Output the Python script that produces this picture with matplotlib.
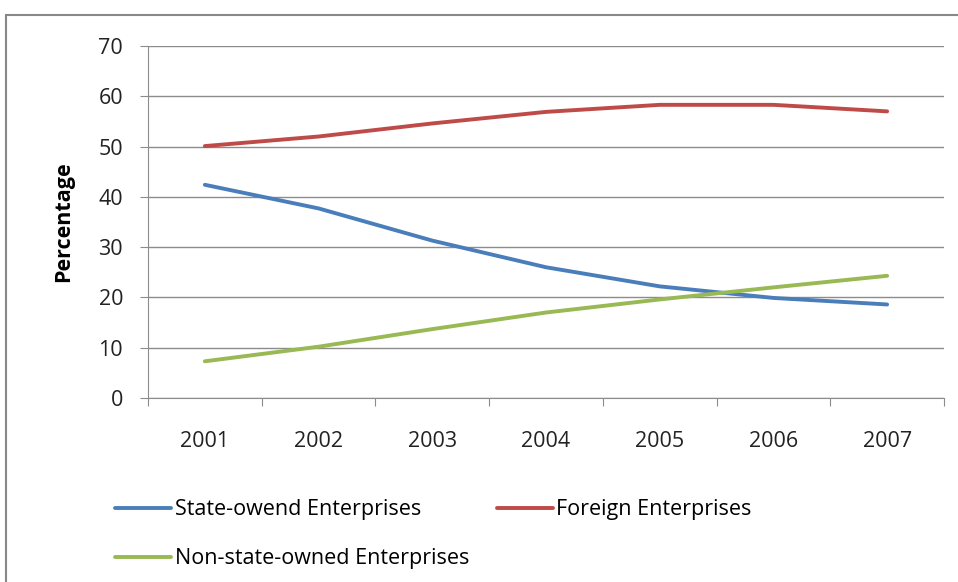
import matplotlib.pyplot as plt
from matplotlib.patches import Rectangle

plt.rcParams['font.family'] = ['Open Sans', 'DejaVu Sans']

years = ['2001', '2002', '2003', '2004', '2005', '2006', '2007']
state_owned = [42.4, 37.7, 31.3, 26.0, 22.2, 19.9, 18.6]
foreign = [50.1, 52.0, 54.6, 56.9, 58.3, 58.3, 57.0]
non_state = [7.3, 10.2, 13.7, 17.0, 19.6, 22.0, 24.3]
labels = ['State-owend Enterprises', 'Foreign Enterprises', 'Non-state-owned Enterprises']
colors = ['#4A7EBB', '#BE4B48', '#98B954']
fs = 15.5

fig = plt.figure(figsize=(9.58, 5.82), dpi=100)
# chart border like the Excel chart area
fig.patches.append(Rectangle((6 / 958, -0.1), 1.2, 1.1 - 15 / 582, transform=fig.transFigure,
                             fill=False, edgecolor='#888888', lw=1.5))

ax = fig.add_axes([148 / 958, 1 - 398 / 582, 796 / 958, 352 / 582])
x = range(len(years))
h1, = ax.plot(x, state_owned, color=colors[0], lw=2.8, solid_capstyle='round')
h2, = ax.plot(x, foreign, color=colors[1], lw=2.8, solid_capstyle='round')
h3, = ax.plot(x, non_state, color=colors[2], lw=2.8, solid_capstyle='round')

ax.set_xlim(-0.5, 6.5)
ax.set_ylim(0, 70)
ax.set_yticks(range(0, 71, 10))
ax.yaxis.grid(True, color='#8c8c8c', lw=1)
ax.set_axisbelow(True)

ax.set_xticks([i - 0.5 for i in range(8)])
ax.set_xticklabels([])
ax.set_xticks(list(x), minor=True)
ax.set_xticklabels(years, minor=True)
ax.tick_params(axis='x', which='major', length=6, color='#8c8c8c', direction='out')
ax.tick_params(axis='x', which='minor', length=0, pad=24, labelsize=fs, labelcolor='#222222')
ax.tick_params(axis='y', length=6, color='#8c8c8c', pad=12, labelsize=fs, labelcolor='#222222')

for s in ['top', 'right']:
    ax.spines[s].set_visible(False)
ax.spines['left'].set_color('#8c8c8c')
ax.spines['bottom'].set_color('#8c8c8c')

ax.set_ylabel('Percentage', fontsize=fs, fontweight='bold', labelpad=17.5)

fig.legend([h1, h3, h2], [labels[0], labels[2], labels[1]], ncol=2, frameon=False,
           loc='upper left', bbox_to_anchor=(96 / 958, 1 - 480 / 582),
           fontsize=fs, handlelength=2.6, handletextpad=0.15, columnspacing=1.3,
           labelspacing=1.3)

fig.savefig('out.png', dpi=100)
